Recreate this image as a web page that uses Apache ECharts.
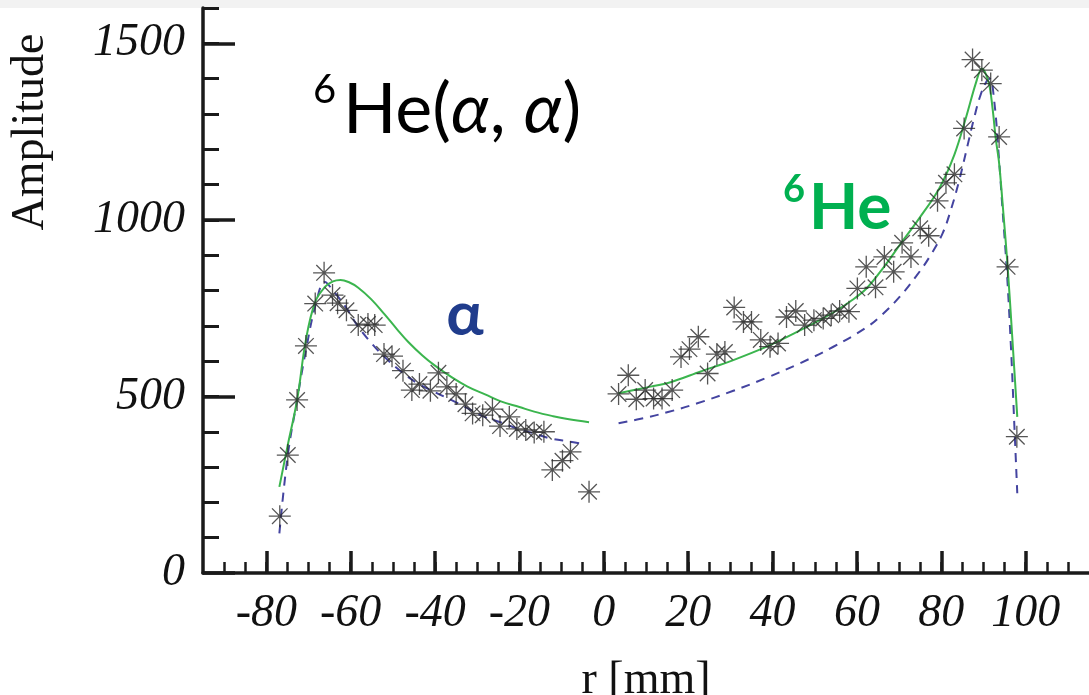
<!DOCTYPE html>
<html>
<head>
<meta charset="utf-8">
<title>6He(α, α)</title>
<script src="https://cdn.jsdelivr.net/npm/echarts@6/dist/echarts.min.js"></script>
<style>
  html, body { margin: 0; padding: 0; background: #fff; }
  #chart { width: 1089px; height: 695px; }
</style>
</head>
<body>
<div id="chart"></div>
<script>
// 测量点 (左: α, 右: 6He)
const rAlpha = [-76.8, -74.9, -72.7, -70.6, -68.4, -66.3, -64.3, -63.1, -61.0, -58.2, -55.9, -54.3, -52.1, -50.2, -47.6, -45.5, -43.7, -41.1, -39.2, -37.2, -35.0, -32.8, -31.1, -28.7, -26.4, -24.6, -22.4, -20.6, -18.5, -16.5, -14.2, -12.2, -9.8, -7.9, -3.5];
const ampAlpha = [161, 334, 490, 643, 763, 850, 787, 764, 744, 702, 705, 702, 620, 614, 573, 518, 535, 516, 567, 527, 507, 478, 452, 447, 464, 416, 442, 408, 405, 398, 400, 292, 318, 343, 230];

const rHe = [3.5, 5.8, 7.7, 9.8, 11.8, 13.8, 16.2, 18.3, 20.3, 22.4, 24.6, 26.8, 28.7, 30.9, 33.1, 35.0, 37.2, 39.4, 41.3, 43.3, 45.5, 47.6, 49.8, 52.0, 53.9, 55.9, 58.1, 60.1, 62.2, 64.4, 66.5, 68.7, 70.7, 72.8, 75.0, 77.0, 79.1, 81.1, 83.1, 85.4, 87.4, 89.6, 91.7, 93.7, 95.7, 97.9];
const ampHe = [507, 560, 492, 518, 494, 494, 518, 612, 634, 669, 565, 620, 626, 752, 711, 711, 660, 641, 650, 725, 742, 702, 716, 721, 730, 742, 740, 806, 867, 809, 895, 853, 935, 895, 976, 955, 1054, 1105, 1129, 1259, 1454, 1424, 1386, 1235, 867, 386];

// 拟合曲线 (绿色实线)
const fitGreenLeftR = [-76.9, -75.0, -72.7, -70.6, -68.4, -66.1, -64.2, -62.4, -60.5, -58.2, -55.1, -52.0, -49.0, -46.4, -43.0, -40.1, -36.0, -32.3, -28.0, -24.4, -20.0, -16.5, -12.0, -8.6, -3.5];
const fitGreenLeftA = [244, 357, 490, 661, 768, 810, 826, 830, 824, 808, 775, 733, 690, 655, 616, 588, 554, 528, 505, 486, 470, 457, 444, 436, 427];
const fitGreenRightR = [3.5, 10, 16, 22.8, 30.7, 38.6, 45, 50.4, 55, 58.3, 62.2, 66.1, 70.5, 74.8, 79.5, 83.1, 85.8, 88.2, 89.6, 91.2, 92.1, 92.9, 93.7, 94.7, 95.7, 96.8, 98.0];
const fitGreenRightA = [509, 525, 541, 570, 603, 641, 678, 711, 742, 768, 805, 862, 935, 1005, 1089, 1185, 1288, 1388, 1429, 1390, 1320, 1230, 1160, 1020, 870, 670, 442];

// 拟合曲线 (蓝色虚线)
const fitBlueLeftR = [-76.9, -74.9, -72.7, -70.6, -68.2, -66.1, -64.2, -61.0, -58.2, -55.0, -52.0, -48.0, -44.1, -40.0, -36.2, -32.0, -28.3, -24.0, -20.5, -16.5, -12.6, -8.0, -5.5];
const fitBlueLeftA = [112, 334, 490, 631, 765, 824, 800, 750, 697, 650, 612, 570, 537, 512, 490, 465, 442, 425, 409, 395, 381, 372, 367];
const fitBlueRightR = [3.5, 10, 15, 22, 30.7, 38.6, 46.5, 54.3, 62.2, 66, 70.1, 74, 77.2, 80.3, 82.3, 84.2, 86.2, 87.8, 89.2, 90.6, 91.5, 92.5, 93.5, 94.5, 95.5, 96.5, 97.3, 98.0];
const fitBlueRightA = [424, 440, 455, 480, 516, 553, 594, 640, 695, 732, 782, 840, 895, 962, 1030, 1110, 1210, 1290, 1350, 1390, 1400, 1340, 1200, 1030, 860, 640, 420, 226];

// 刻度
const xMajorTicks = [-80, -60, -40, -20, 0, 20, 40, 60, 80, 100];
const yMajorTicks = [0, 500, 1000, 1500];

const zip = (xs, ys) => xs.map((x, i) => [x, ys[i]]);

let xMinorTicks = [];
for (let v = -90; v <= 110; v += 5) xMinorTicks.push(v);
let yMinorTicks = [];
for (let v = 100; v <= 1600; v += 100) yMinorTicks.push(v);

const axisColor = '#1a1a1a';
const serifLabel = {
  fontFamily: 'Liberation Serif',
  fontStyle: 'italic',
  fontSize: 46,
  color: '#111',
  formatter: v => String(v)
};
const asterisk = 'path://M0,-10L0,10M-10,0L10,0M-7.07,-7.07L7.07,7.07M-7.07,7.07L7.07,-7.07';

let myChart = echarts.init(document.getElementById('chart'));

let option = {
  animation: false,
  backgroundColor: '#fff',
  grid: { left: 203, right: 0, top: 8, bottom: 122, outerBoundsMode: 'none' },
  xAxis: [
    {
      type: 'value', min: -95, max: 115, position: 'bottom',
      axisLine: { onZero: false, lineStyle: { color: axisColor, width: 3.5 } },
      axisTick: { inside: true, length: 11, customValues: xMinorTicks, lineStyle: { color: axisColor, width: 2.5 } },
      axisLabel: { show: false },
      splitLine: { show: false }
    },
    {
      type: 'value', min: -95, max: 115, position: 'bottom',
      axisLine: { show: false, onZero: false },
      axisTick: { inside: true, length: 22, customValues: xMajorTicks, lineStyle: { color: axisColor, width: 3.5 } },
      axisLabel: Object.assign({ margin: 18, customValues: xMajorTicks }, serifLabel),
      splitLine: { show: false },
      name: 'r [mm]',
      nameLocation: 'middle',
      nameGap: 85,
      nameTextStyle: { fontFamily: 'Liberation Serif', fontSize: 46, color: '#111' }
    }
  ],
  yAxis: [
    {
      type: 'value', min: 0, max: 1600, position: 'left',
      axisLine: { onZero: false, lineStyle: { color: axisColor, width: 3.5 } },
      axisTick: { inside: true, length: 16, customValues: yMinorTicks, lineStyle: { color: axisColor, width: 3 } },
      axisLabel: { show: false },
      splitLine: { show: false }
    },
    {
      type: 'value', min: 0, max: 1600, position: 'left',
      axisLine: { show: false, onZero: false },
      axisTick: { inside: true, length: 32, customValues: yMajorTicks, lineStyle: { color: axisColor, width: 3.5 } },
      axisLabel: Object.assign({ margin: 18, customValues: yMajorTicks }, serifLabel),
      splitLine: { show: false }
    }
  ],
  graphic: [
    { type: 'rect', left: 0, top: 0, shape: { width: 1089, height: 8 }, style: { fill: '#f2f2f2' }, z: -1 },
    {
      type: 'text', x: 31, y: 132, rotation: Math.PI / 2,
      style: { text: 'Amplitude', font: '46px "Liberation Serif"', fill: '#111', align: 'center', verticalAlign: 'middle' }
    },
    {
      type: 'text', x: 313, y: 90,
      style: { text: '6', font: '40px Lato', fill: '#000', align: 'left', verticalAlign: 'middle' }
    },
    {
      type: 'text', x: 343, y: 110,
      style: {
        text: 'He({i|α}, {i|α})', font: '70px Lato', fill: '#000', align: 'left', verticalAlign: 'middle',
        rich: { i: { fontFamily: 'Lato', fontSize: 70, fontStyle: 'italic', fill: '#000' } }
      }
    },
    {
      type: 'text', x: 465, y: 315,
      style: { text: 'α', font: 'bold 62px Lato', fill: '#203c8c', align: 'center', verticalAlign: 'middle' }
    },
    {
      type: 'text', x: 783, y: 190,
      style: { text: '6', font: 'bold 38px Lato', fill: '#00b050', align: 'left', verticalAlign: 'middle' }
    },
    {
      type: 'text', x: 809, y: 208,
      style: { text: 'He', font: 'bold 64px Lato', fill: '#00b050', align: 'left', verticalAlign: 'middle' }
    }
  ],
  series: [
    {
      name: 'fit-green-left', type: 'line', data: zip(fitGreenLeftR, fitGreenLeftA),
      showSymbol: false, smooth: 0.4, lineStyle: { color: '#3bb54e', width: 2 }, z: 2
    },
    {
      name: 'fit-green-right', type: 'line', data: zip(fitGreenRightR, fitGreenRightA),
      showSymbol: false, smooth: 0.35, lineStyle: { color: '#3bb54e', width: 2 }, z: 2
    },
    {
      name: 'fit-blue-left', type: 'line', data: zip(fitBlueLeftR, fitBlueLeftA),
      showSymbol: false, smooth: 0.4, lineStyle: { color: '#4444a0', width: 2, type: [9, 7] }, z: 1
    },
    {
      name: 'fit-blue-right', type: 'line', data: zip(fitBlueRightR, fitBlueRightA),
      showSymbol: false, smooth: 0.4, lineStyle: { color: '#4444a0', width: 2, type: [9, 7] }, z: 1
    },
    {
      name: 'alpha', type: 'scatter', data: zip(rAlpha, ampAlpha),
      symbol: asterisk, symbolSize: 22,
      itemStyle: { color: 'rgba(0,0,0,0)', borderColor: '#2a2a2a', borderWidth: 1.3 }, z: 3
    },
    {
      name: 'he6', type: 'scatter', data: zip(rHe, ampHe),
      symbol: asterisk, symbolSize: 22,
      itemStyle: { color: 'rgba(0,0,0,0)', borderColor: '#2a2a2a', borderWidth: 1.3 }, z: 3
    }
  ]
};

myChart.setOption(option);
</script>
</body>
</html>
